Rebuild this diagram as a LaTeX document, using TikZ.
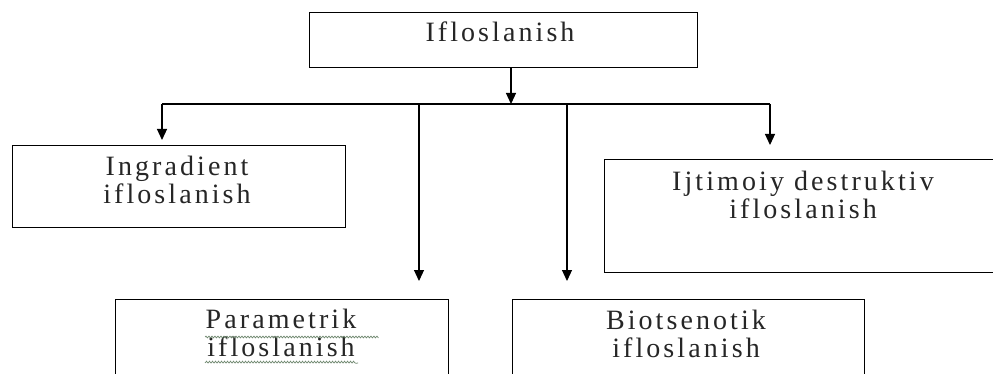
\documentclass[tikz,border=0pt]{standalone}
\usepackage{fontspec}
\setmainfont{Liberation Serif}[LetterSpace=11]
\usetikzlibrary{arrows.meta,decorations.pathmorphing}
\definecolor{squiggle}{RGB}{110,135,110}

\begin{document}
\begin{tikzpicture}[x=1pt, y=-1pt,
  mybox/.style={draw, line width=1.2pt, anchor=north west, inner sep=0pt},
  mytxt/.style={anchor=north, align=center, inner sep=0pt, text=black!85,
    font=\fontsize{28}{28}\selectfont},
  myarr/.style={-{Triangle[width=10pt,length=11pt]}, line width=1.2pt}]
  \clip (0,0) rectangle (993,374);

  \node[mybox, minimum width=388pt, minimum height=55pt] (top) at (309,12) {};
  \node[mybox, minimum width=333pt, minimum height=82pt] (ingr) at (12,145) {};
  \node[mybox, minimum width=401pt, minimum height=113pt] (ijt) at (604,159) {};
  \node[mybox, minimum width=333pt, minimum height=100pt] (param) at (115,299) {};
  \node[mybox, minimum width=352pt, minimum height=100pt] (bio) at (512,299) {};

  \node[mytxt, anchor=base] (topt) at (500,42) {Ifloslanish};
  \node[mytxt] (ingrt) at (177,156) {Ingradient\\ifloslanish};
  \node[mytxt] (ijtt) at (803,171) {Ijtimoiy destruktiv\\ifloslanish};
  \node[mytxt] (paramt) at (281,309) {Parametrik\\ifloslanish};
  \node[mytxt] (biot) at (686,310) {Biotsenotik\\ifloslanish};

  \coordinate (hub) at (511,104);
  \coordinate (l) at (162,104);
  \coordinate (r) at (770,104);
  \coordinate (pm) at (419,104);
  \coordinate (bm) at (567,104);
  \coordinate (ingrin) at (162,140);
  \coordinate (ijtin) at (770,145);
  \coordinate (paramin) at (419,281);
  \coordinate (bioin) at (567,281);

  \draw[myarr] (top.south -| hub) -- (hub);
  \draw[line width=1.2pt] (l) -- (r);
  \draw[myarr] (l) -- (ingrin);
  \draw[myarr] (r) -- (ijtin);
  \draw[myarr] (pm) -- (paramin);
  \draw[myarr] (bm) -- (bioin);

  % spell-check squiggles
  \draw[squiggle, line width=0.7pt, decorate,
    decoration={snake, amplitude=0.9pt, segment length=3pt}]
    (205,337) -- (377,337) (205,363) -- (358,363);
\end{tikzpicture}
\end{document}
